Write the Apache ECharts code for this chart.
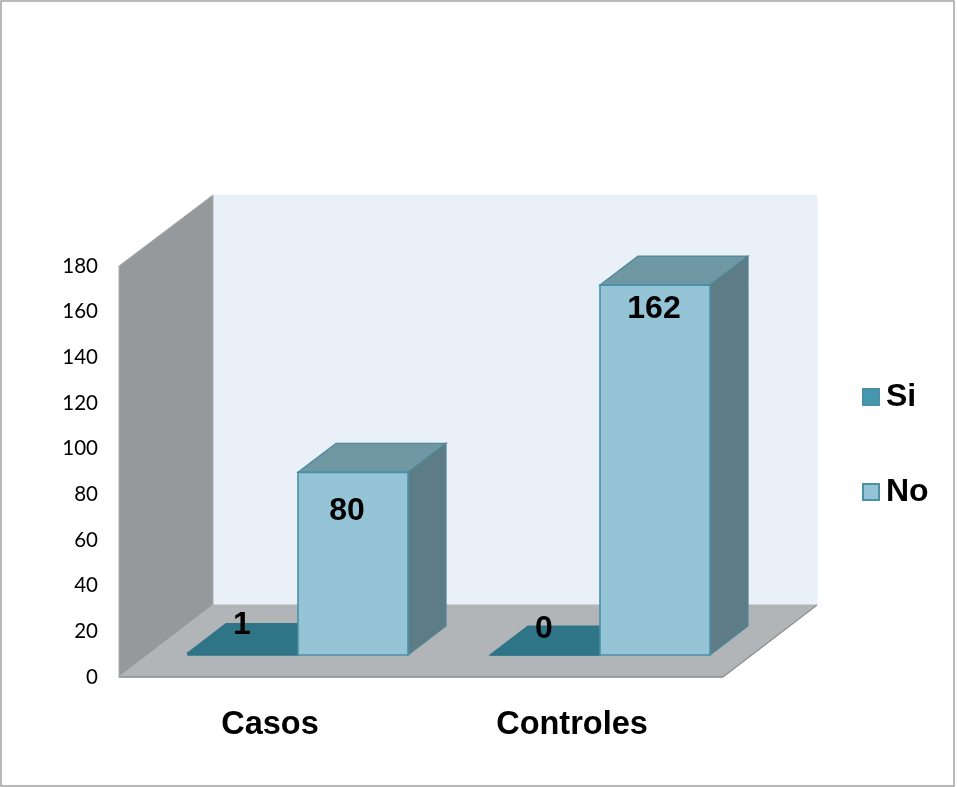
<!DOCTYPE html>
<html>
<head>
<meta charset="utf-8">
<style>html,body{margin:0;padding:0;background:#fff}#c{width:957px;height:787px}</style>
<script src="https://cdn.jsdelivr.net/npm/echarts@6/dist/echarts.min.js"></script>
</head>
<body>
<div id="c"></div>
<script>
const categories = ['Casos', 'Controles'];
const siValues = [1, 0];
const noValues = [80, 162];
const yTicks = [0, 20, 40, 60, 80, 100, 120, 140, 160, 180];

// Projection of the oblique 3D box, in pixels
const WALL = { dx: 94, dy: -72 };
const BAR = { dx: 38, dy: -29, width: 110, lift: 22, shift: 28 };
const FONT = '"Liberation Sans", Arial, sans-serif';

function poly(points, fill, stroke, lw) {
  return { type: 'polygon', shape: { points }, silent: true,
    style: { fill, stroke: stroke || fill, lineWidth: lw == null ? 1 : lw } };
}

function renderFrame(params) {
  const g = params.coordSys;
  const x0 = g.x, x1 = g.x + g.width, t = g.y, b = g.y + g.height;
  const d = WALL;
  return { type: 'group', children: [
    poly([[x0 + d.dx, t + d.dy + 1], [x1 + d.dx, t + d.dy + 1], [x1 + d.dx, b + d.dy], [x0 + d.dx, b + d.dy]], '#e9f0f7'),
    poly([[x0, t], [x0 + d.dx, t + d.dy + 1], [x0 + d.dx, b + d.dy], [x0, b]], '#96999b', '#a8abad', 1),
    poly([[x0, b], [x1, b], [x1 + d.dx, b + d.dy], [x0 + d.dx, b + d.dy]], '#b2b5b8', '#b2b5b8', 1),
    { type: 'line', silent: true, shape: { x1: x0, y1: b, x2: x1, y2: b }, style: { stroke: '#8e9193', lineWidth: 1.5 } },
    { type: 'line', silent: true, shape: { x1: x1, y1: b, x2: x1 + d.dx, y2: b + d.dy }, style: { stroke: '#8e9193', lineWidth: 1.2 } }
  ]};
}

function barRenderer(side, colors, nudges) {
  return function (params, api) {
    const cat = api.value(0), val = api.value(1);
    const base = api.coord([cat, 0]);
    const topP = api.coord([cat, val]);
    const left = side === 'left' ? base[0] + BAR.shift - BAR.width : base[0] + BAR.shift;
    const right = left + BAR.width;
    const bottom = base[1] - BAR.lift, top = topP[1] - BAR.lift;
    const d = BAR, edge = colors.edge;
    const n = nudges[cat];
    return { type: 'group', children: [
      poly([[right, top], [right + d.dx, top + d.dy], [right + d.dx, bottom + d.dy], [right, bottom]], colors.side, colors.sideEdge, 1.2),
      poly([[left, top], [left + d.dx, top + d.dy], [right + d.dx, top + d.dy], [right, top]], colors.top, colors.sideEdge, 1.2),
      poly([[left, top], [right, top], [right, bottom], [left, bottom]], colors.front, edge, 1.6),
      { type: 'text', silent: true, z2: 50, style: {
          text: String(val), x: (left + right) / 2 + n[0], y: top + n[1],
          align: 'center', verticalAlign: 'middle',
          font: 'bold 32px ' + FONT, fill: '#000' } }
    ]};
  };
}

const siColors = { front: '#2f7487', edge: '#2f7487', side: '#2f7487', sideEdge: '#2f7487', top: '#2f7487' };
const noColors = { front: '#95c4d6', edge: '#4a90a6', side: '#5e7c86', sideEdge: '#4f8797', top: '#6f97a4' };

const chart = echarts.init(document.getElementById('c'), null, { renderer: 'canvas' });
chart.setOption({
  animation: false,
  backgroundColor: '#fff',
  tooltip: { show: false },
  grid: { left: 119, top: 266, width: 604, height: 411, containLabel: false },
  xAxis: {
    type: 'category', data: categories,
    axisLine: { show: false }, axisTick: { show: false }, splitLine: { show: false },
    axisLabel: { color: '#000', fontFamily: FONT, fontWeight: 'bold', fontSize: 32.5, margin: 32 }
  },
  yAxis: {
    type: 'value', min: 0, max: 180, interval: 20,
    axisLine: { show: false }, axisTick: { show: false }, splitLine: { show: false },
    axisLabel: { color: '#000', fontFamily: 'Lato, "Open Sans", sans-serif', fontSize: 20.5, margin: 21,
      padding: [2, 0, 0, 0],
      formatter: v => yTicks.includes(v) ? String(v) : '' }
  },
  legend: {
    orient: 'vertical', left: 857, top: 376, itemWidth: 16, itemHeight: 16, itemGap: 63,
    icon: 'rect', selectedMode: false,
    data: ['Si', 'No'],
    textStyle: { color: '#000', fontFamily: FONT, fontWeight: 'bold', fontSize: 32, padding: [0, 0, 0, 2] }
  },
  graphic: [{ type: 'rect', silent: true, z: 100,
    shape: { x: 1, y: 1, width: 953, height: 785 },
    style: { fill: 'none', stroke: '#a3a3a3', lineWidth: 1.5 } }],
  series: [
    { type: 'custom', name: 'frame', z: 1, clip: false, silent: true, data: [[0, 0]], renderItem: renderFrame },
    { type: 'custom', name: 'Si', z: 2, clip: false, silent: true,
      itemStyle: { color: '#4497af', borderColor: '#4a90a6', borderWidth: 1 },
      encode: { x: 0, y: 1 },
      data: siValues.map((v, i) => [i, v]),
      renderItem: barRenderer('left', siColors, [[-1, -28], [-1, -26]]) },
    { type: 'custom', name: 'No', z: 3, clip: false, silent: true,
      itemStyle: { color: '#95c4d6', borderColor: '#4a90a6', borderWidth: 1.5 },
      encode: { x: 0, y: 1 },
      data: noValues.map((v, i) => [i, v]),
      renderItem: barRenderer('right', noColors, [[-6, 39], [-1, 24]]) }
  ]
});
</script>
</body>
</html>
